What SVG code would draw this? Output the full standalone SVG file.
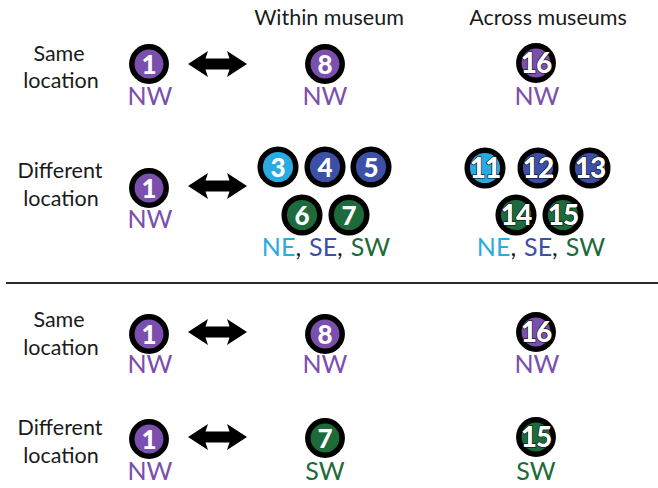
<svg xmlns="http://www.w3.org/2000/svg" width="658" height="488" viewBox="0 0 658 488">
<style>
.hd{font-family:Lato,"Open Sans",sans-serif;font-size:21.5px;fill:#1a1a1a;text-anchor:middle}
.lb{font-family:Lato,"Open Sans",sans-serif;font-size:25px;text-anchor:middle}
.ring{stroke:#000;stroke-width:5.5}
.num{font-family:Lato,"Open Sans",sans-serif;font-weight:900;font-size:26px;fill:#fff;text-anchor:middle}
.big{font-family:Lato,"Open Sans",sans-serif;font-weight:900;font-size:28px;fill:#fff;text-anchor:middle;stroke:#000;stroke-width:1.2;paint-order:stroke;letter-spacing:-1px}
.pu{fill:#7a4fad}.lb2{fill:#29abe2}.bl{fill:#3d50a8}.gr{fill:#1d6a3a}.k{fill:#1a1a1a}
</style>
<defs>
<path id="arr" d="M0,0 L20,-13 L17.5,-5.5 L41.5,-5.5 L39,-13 L59,0 L39,13 L41.5,5.5 L17.5,5.5 L20,13 Z" fill="#000"/>
</defs>

<g id="headers">
<text class="hd" x="329" y="25">Within museum</text>
<text class="hd" x="548" y="25">Across museums</text>
</g>

<g id="row-labels">
<text class="hd" x="59" y="61">Same</text>
<text class="hd" x="61" y="88">location</text>
<text class="hd" x="60" y="178">Different</text>
<text class="hd" x="61" y="206">location</text>
<text class="hd" x="59" y="327">Same</text>
<text class="hd" x="61" y="355">location</text>
<text class="hd" x="60" y="435">Different</text>
<text class="hd" x="61" y="463">location</text>
</g>

<g id="connectors">
<use href="#arr" x="188" y="64"/>
<use href="#arr" x="188" y="186"/>
<use href="#arr" x="188" y="332"/>
<use href="#arr" x="188" y="437"/>
</g>

<g id="r1-n1"><circle class="ring pu" cx="149" cy="64" r="17.2"/><text class="num" x="149" y="73.5">1</text><text class="lb pu" x="150" y="105">NW</text></g>
<g id="r1-n8"><circle class="ring pu" cx="325" cy="64" r="17.2"/><text class="num" x="325" y="73.5">8</text><text class="lb pu" x="325" y="105">NW</text></g>
<g id="r1-n16"><circle class="ring pu" cx="536" cy="63" r="17.2"/><text class="big" x="536" y="73">16</text><text class="lb pu" x="537" y="105">NW</text></g>

<g id="r2-n1"><circle class="ring pu" cx="149" cy="188" r="17.2"/><text class="num" x="149" y="197.5">1</text><text class="lb pu" x="150" y="228">NW</text></g>
<g id="r2-n3"><circle class="ring lb2" cx="278" cy="167" r="17.8"/><text class="num" x="278" y="176.5">3</text></g>
<g id="r2-n4"><circle class="ring bl" cx="325" cy="167" r="17.8"/><text class="num" x="325" y="176.5">4</text></g>
<g id="r2-n5"><circle class="ring bl" cx="371" cy="167" r="17.8"/><text class="num" x="371" y="176.5">5</text></g>
<g id="r2-n6"><circle class="ring gr" cx="302" cy="215" r="17.8"/><text class="num" x="302" y="224.5">6</text></g>
<g id="r2-n7"><circle class="ring gr" cx="349" cy="215" r="17.8"/><text class="num" x="349" y="224.5">7</text></g>
<g id="r2-lab1"><text class="lb" x="326" y="256"><tspan class="lb2">NE</tspan><tspan class="k">,</tspan><tspan class="bl" dx="8">SE</tspan><tspan class="k">,</tspan><tspan class="gr" dx="8">SW</tspan></text></g>
<g id="r2-n11"><circle class="ring lb2" cx="485" cy="168" r="17.8"/><text class="big" x="485" y="178">11</text></g>
<g id="r2-n12"><circle class="ring bl" cx="538" cy="168" r="17.8"/><text class="big" x="538" y="178">12</text></g>
<g id="r2-n13"><circle class="ring bl" cx="590" cy="168" r="17.8"/><text class="big" x="590" y="178">13</text></g>
<g id="r2-n14"><circle class="ring gr" cx="516" cy="215" r="17.8"/><text class="big" x="516" y="225">14</text></g>
<g id="r2-n15"><circle class="ring gr" cx="563" cy="215" r="17.8"/><text class="big" x="563" y="225">15</text></g>
<g id="r2-lab2"><text class="lb" x="541" y="256"><tspan class="lb2">NE</tspan><tspan class="k">,</tspan><tspan class="bl" dx="8">SE</tspan><tspan class="k">,</tspan><tspan class="gr" dx="8">SW</tspan></text></g>

<g id="divider"><line x1="6" y1="283" x2="658" y2="283" stroke="#2a2a2a" stroke-width="2"/></g>

<g id="r3-n1"><circle class="ring pu" cx="149" cy="334" r="17.2"/><text class="num" x="149" y="343.5">1</text><text class="lb pu" x="150" y="373">NW</text></g>
<g id="r3-n8"><circle class="ring pu" cx="325" cy="334" r="17.2"/><text class="num" x="325" y="343.5">8</text><text class="lb pu" x="325" y="373">NW</text></g>
<g id="r3-n16"><circle class="ring pu" cx="536" cy="332" r="17.2"/><text class="big" x="536" y="342">16</text><text class="lb pu" x="537" y="373">NW</text></g>

<g id="r4-n1"><circle class="ring pu" cx="149" cy="439" r="17.2"/><text class="num" x="149" y="448.5">1</text><text class="lb pu" x="150" y="480">NW</text></g>
<g id="r4-n7"><circle class="ring gr" cx="325" cy="438" r="17.2"/><text class="num" x="325" y="447.5">7</text><text class="lb gr" x="325" y="480">SW</text></g>
<g id="r4-n15"><circle class="ring gr" cx="536" cy="437" r="17.2"/><text class="big" x="536" y="447">15</text><text class="lb gr" x="536" y="480">SW</text></g>
</svg>
